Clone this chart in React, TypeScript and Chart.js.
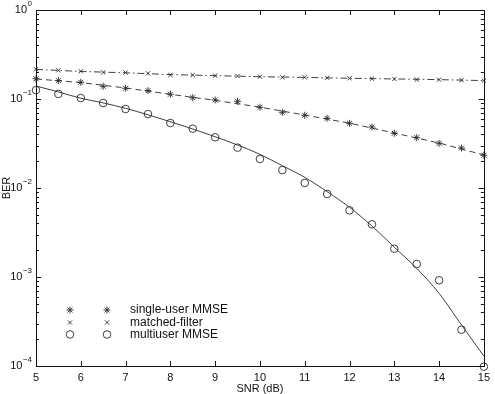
import React, { useEffect, useRef } from 'react';
import { Chart, registerables } from 'chart.js';
import { drawPoint } from 'chart.js/helpers';

Chart.register(...registerables);

// ---- data ----
const snrPoints = [5, 5.5, 6, 6.5, 7, 7.5, 8, 8.5, 9, 9.5, 10, 10.5, 11, 11.5, 12, 12.5, 13, 13.5, 14, 14.5, 15];
const singleUserMarkers = [0.169, 0.161, 0.154, 0.139, 0.132, 0.124, 0.113, 0.1035, 0.0975, 0.0942, 0.0807, 0.0709, 0.0656, 0.0607, 0.0533, 0.0485, 0.0412, 0.0368, 0.0318, 0.0281, 0.0233];
const matchedFilterMarkers = [0.216, 0.21, 0.205, 0.199, 0.198, 0.194, 0.186, 0.186, 0.183, 0.181, 0.178, 0.175, 0.175, 0.173, 0.171, 0.169, 0.168, 0.165, 0.165, 0.163, 0.161];
const multiuserMarkers = [0.126, 0.114, 0.1026, 0.0901, 0.0772, 0.0678, 0.0537, 0.0464, 0.0371, 0.0284, 0.0212, 0.0159, 0.0114, 0.00857, 0.00561, 0.00391, 0.00208, 0.0014, 0.000918, 0.000256, 0.0000982];

const curveSnr = [5, 6, 7, 8, 9, 10, 11, 12, 13, 14, 15];
const singleUserCurve = [0.168, 0.153, 0.133, 0.113, 0.0965, 0.081, 0.066, 0.0535, 0.0415, 0.032, 0.0235];
const matchedFilterCurve = [0.215, 0.204, 0.197, 0.188, 0.183, 0.178, 0.175, 0.171, 0.168, 0.165, 0.161];

const multiuserCurveSnr = [5, 5.5, 6, 6.5, 7, 7.5, 8, 8.5, 9, 9.5, 10, 10.5, 11, 11.5, 12, 12.5, 13, 13.5, 14, 14.5, 15];
const multiuserCurve = [0.14, 0.12, 0.102, 0.0904, 0.0786, 0.0665, 0.0556, 0.046, 0.0377, 0.0304, 0.0239, 0.0178, 0.0132, 0.00909, 0.00607, 0.00374, 0.00216, 0.00125, 0.000656, 0.000289, 0.000129];

const xTicks = [5, 6, 7, 8, 9, 10, 11, 12, 13, 14, 15];
const yDecades = [1, 0.1, 0.01, 0.001, 0.0001];
const yExponents = ['0', '\u22121', '\u22122', '\u22123', '\u22124'];
const legendLabels = ['single-user MMSE', 'matched-filter', 'multiuser MMSE'];
const legendStyles = ['star', 'crossRot', 'circle'];

const FONT = '"Liberation Sans", Arial, Helvetica, sans-serif';
const INK = '#111';
const MARK = '#2a2a2a';

const toXY = (xs: number[], ys: number[]) => xs.map((x, i) => ({ x, y: ys[i] }));

const framePlugin = {
  id: 'matlabFrame',
  afterDraw(chart: any) {
    const { ctx, chartArea: a, scales } = chart;
    const xs = scales.x;
    const ys = scales.y;
    ctx.save();
    ctx.strokeStyle = INK;
    ctx.lineWidth = 1;
    ctx.strokeRect(Math.round(a.left) + 0.5, Math.round(a.top) + 0.5, Math.round(a.right - a.left), Math.round(a.bottom - a.top));
    ctx.beginPath();
    xTicks.forEach((v) => {
      const px = Math.round(xs.getPixelForValue(v)) + 0.5;
      ctx.moveTo(px, a.bottom);
      ctx.lineTo(px, a.bottom - 5);
      ctx.moveTo(px, a.top);
      ctx.lineTo(px, a.top + 5);
    });
    for (let n = -4; n <= 0; n++) {
      for (let k = 1; k <= 9; k++) {
        const v = k * Math.pow(10, n);
        if (v > 1.0000001) continue;
        const py = Math.round(ys.getPixelForValue(v)) + 0.5;
        const len = k === 1 ? 5 : 3;
        ctx.moveTo(a.left, py);
        ctx.lineTo(a.left + len, py);
        ctx.moveTo(a.right, py);
        ctx.lineTo(a.right - len, py);
      }
    }
    ctx.stroke();

    ctx.fillStyle = INK;
    ctx.textBaseline = 'middle';
    yDecades.forEach((v, i) => {
      const py = ys.getPixelForValue(v);
      ctx.font = `8px ${FONT}`;
      const ew = ctx.measureText(yExponents[i]).width;
      const right = a.left - 4;
      ctx.textAlign = 'left';
      ctx.fillText(yExponents[i], right - ew, py - 6);
      ctx.font = `11px ${FONT}`;
      ctx.textAlign = 'right';
      ctx.fillText('10', right - ew - 0.5, py);
    });

    const rows = [a.bottom - 56, a.bottom - 43.5, a.bottom - 31.5];
    const col1 = a.left + 34;
    const col2 = a.left + 71;
    const textX = a.left + 94;
    rows.forEach((ry, i) => {
      const style = legendStyles[i];
      const radius = style === 'circle' ? 3.8 : style === 'star' ? 3.5 : 3;
      ctx.strokeStyle = MARK;
      ctx.fillStyle = 'rgba(0,0,0,0)';
      ctx.lineWidth = 0.9;
      drawPoint(ctx, { pointStyle: style, radius, rotation: 0, borderWidth: 0.9 } as any, col1, ry);
      drawPoint(ctx, { pointStyle: style, radius, rotation: 0, borderWidth: 0.9 } as any, col2, ry);
      ctx.fillStyle = INK;
      ctx.font = `12px ${FONT}`;
      ctx.textAlign = 'left';
      ctx.textBaseline = 'middle';
      ctx.fillText(legendLabels[i], textX, ry);
    });
    ctx.restore();
  },
};

export default function App() {
  const ref = useRef<HTMLCanvasElement | null>(null);
  useEffect(() => {
    document.body.style.margin = '0';
    if (!ref.current) return;
    const lineBase = { pointRadius: 0, borderColor: MARK, borderWidth: 0.9, fill: false, showLine: true };
    const markerBase = { showLine: false, borderColor: MARK, backgroundColor: 'rgba(0,0,0,0)', pointBorderWidth: 0.9, clip: false as any };
    const chart = new Chart(ref.current, {
      type: 'scatter',
      data: {
        datasets: [
          { ...lineBase, label: 'single-user MMSE curve', data: toXY(curveSnr, singleUserCurve), borderDash: [6, 4] } as any,
          { ...lineBase, label: 'matched-filter curve', data: toXY(curveSnr, matchedFilterCurve), borderDash: [7, 3, 1.5, 3] } as any,
          { ...lineBase, label: 'multiuser MMSE curve', data: toXY(multiuserCurveSnr, multiuserCurve), cubicInterpolationMode: 'monotone' } as any,
          { ...markerBase, label: 'single-user MMSE', data: toXY(snrPoints, singleUserMarkers), pointStyle: 'star', pointRadius: 3.5 } as any,
          { ...markerBase, label: 'matched-filter', data: toXY(snrPoints, matchedFilterMarkers), pointStyle: 'crossRot', pointRadius: 3 } as any,
          { ...markerBase, label: 'multiuser MMSE', data: toXY(snrPoints, multiuserMarkers), pointStyle: 'circle', pointRadius: 3.8 } as any,
        ],
      },
      options: {
        responsive: false,
        animation: false,
        layout: { padding: { top: 10, right: 6, left: 0, bottom: 0 } },
        plugins: { legend: { display: false }, tooltip: { enabled: false } },
        scales: {
          x: {
            type: 'linear',
            min: 5,
            max: 15,
            grid: { display: false, drawTicks: false, tickLength: 0 },
            border: { display: false },
            ticks: { stepSize: 1, color: INK, font: { family: FONT, size: 11 }, padding: 5, maxRotation: 0 },
            title: { display: true, text: 'SNR (dB)', color: INK, font: { family: FONT, size: 11 }, padding: { top: 0, bottom: -2 } },
            afterFit: (s: any) => { s.height = 28; },
          },
          y: {
            type: 'logarithmic',
            min: 0.0001,
            max: 1,
            grid: { display: false, drawTicks: false, tickLength: 0 },
            border: { display: false },
            ticks: { display: false },
            title: { display: true, text: 'BER', color: INK, font: { family: FONT, size: 11 }, padding: 0 },
            afterFit: (s: any) => { s.width = 36; },
          },
        },
      } as any,
      plugins: [framePlugin],
    });
    return () => chart.destroy();
  }, []);
  return (
    <div style={{ width: 495, height: 394, background: '#fff' }}>
      <canvas ref={ref} width={495} height={394} style={{ display: 'block' }} />
    </div>
  );
}
